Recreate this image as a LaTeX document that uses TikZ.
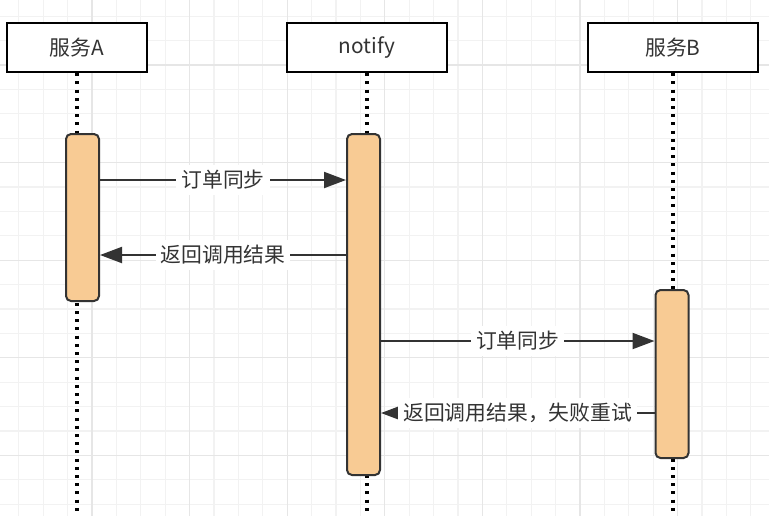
\documentclass[tikz,border=0pt]{standalone}
\usepackage{fontspec}
\setmainfont{Noto Sans CJK SC}
\usetikzlibrary{positioning,arrows.meta}

\definecolor{ink}{HTML}{333333}
\definecolor{actfill}{HTML}{F8CB94}
\definecolor{gridminor}{HTML}{F2F2F2}
\definecolor{gridmajor}{HTML}{E6E6E6}

\begin{document}
\begin{tikzpicture}[
    x=0.5pt, y=-0.5pt,
    font=\fontsize{10.4pt}{12pt}\selectfont,
    party/.style={rectangle, draw=black, line width=1.2pt, fill=white, text=ink, minimum width=#1, minimum height=24.5pt, inner sep=0pt},
    act/.style={rectangle, rounded corners=2.5pt, draw=ink, line width=1pt, fill=actfill, minimum width=16.5pt, minimum height=#1, inner sep=0pt},
    life/.style={line width=1.6pt, dash pattern=on 1.5pt off 2.6pt, draw=black},
    msg/.style={-{Triangle[length=11pt, width=8pt]}, line width=1pt, draw=ink},
    lbl/.style={fill=white, text=ink, inner sep=2.5pt}
]
\useasboundingbox (0,0) rectangle (769,516);

% Background grid
\begin{scope}
\clip (0,0) rectangle (769,516);
\foreach \i in {0,...,32}
    \draw[gridminor, line width=0.6pt] ({-5.6+24.4*\i},0) -- ++(0,516);
\foreach \j in {0,...,21}
    \draw[gridminor, line width=0.6pt] (0,{-8.2+24.4*\j}) -- ++(769,0);
\foreach \i in {0,...,7}
    \draw[gridmajor, line width=0.6pt] ({92+97.6*\i},0) -- ++(0,516);
\foreach \j in {0,...,4}
    \draw[gridmajor, line width=0.6pt] (0,{65+97.6*\j}) -- ++(769,0);
\end{scope}

% Participants
\node[party=70pt] (svcA) at (77, 47.5) {服务A};
\node[party=80pt] (notify) at (367, 47.5) {notify};
\node[party=85pt] (svcB) at (673, 47.5) {服务B};

% Lifelines
\coordinate (endA) at (77, 512);
\coordinate (endN) at (367, 512);
\coordinate (endB) at (673, 512);
\draw[life] (svcA.south) -- (endA);
\draw[life] (notify.south) -- (endN);
\draw[life] (svcB.south) -- (endB);

% Activation bars
\node[act=83.5pt] (actA) at (82.5, 217.5) {};
\node[act=170.5pt] (actN) at (363.5, 304.5) {};
\node[act=84pt] (actB) at (672, 374) {};

% Message rows
\coordinate (m1) at (0, 180);
\coordinate (m2) at (0, 255);
\coordinate (m3) at (0, 341);
\coordinate (m4) at (0, 413);

% Messages
\draw[msg] (actA.east |- m1) -- node[lbl]{订单同步} (actN.west |- m1);
\draw[msg] (actN.west |- m2) -- node[lbl]{返回调用结果} (actA.east |- m2);
\draw[msg] (actN.east |- m3) -- node[lbl]{订单同步} (actB.west |- m3);
\draw[msg] (actB.west |- m4) -- node[lbl]{返回调用结果，失败重试} (actN.east |- m4);

\end{tikzpicture}
\end{document}
